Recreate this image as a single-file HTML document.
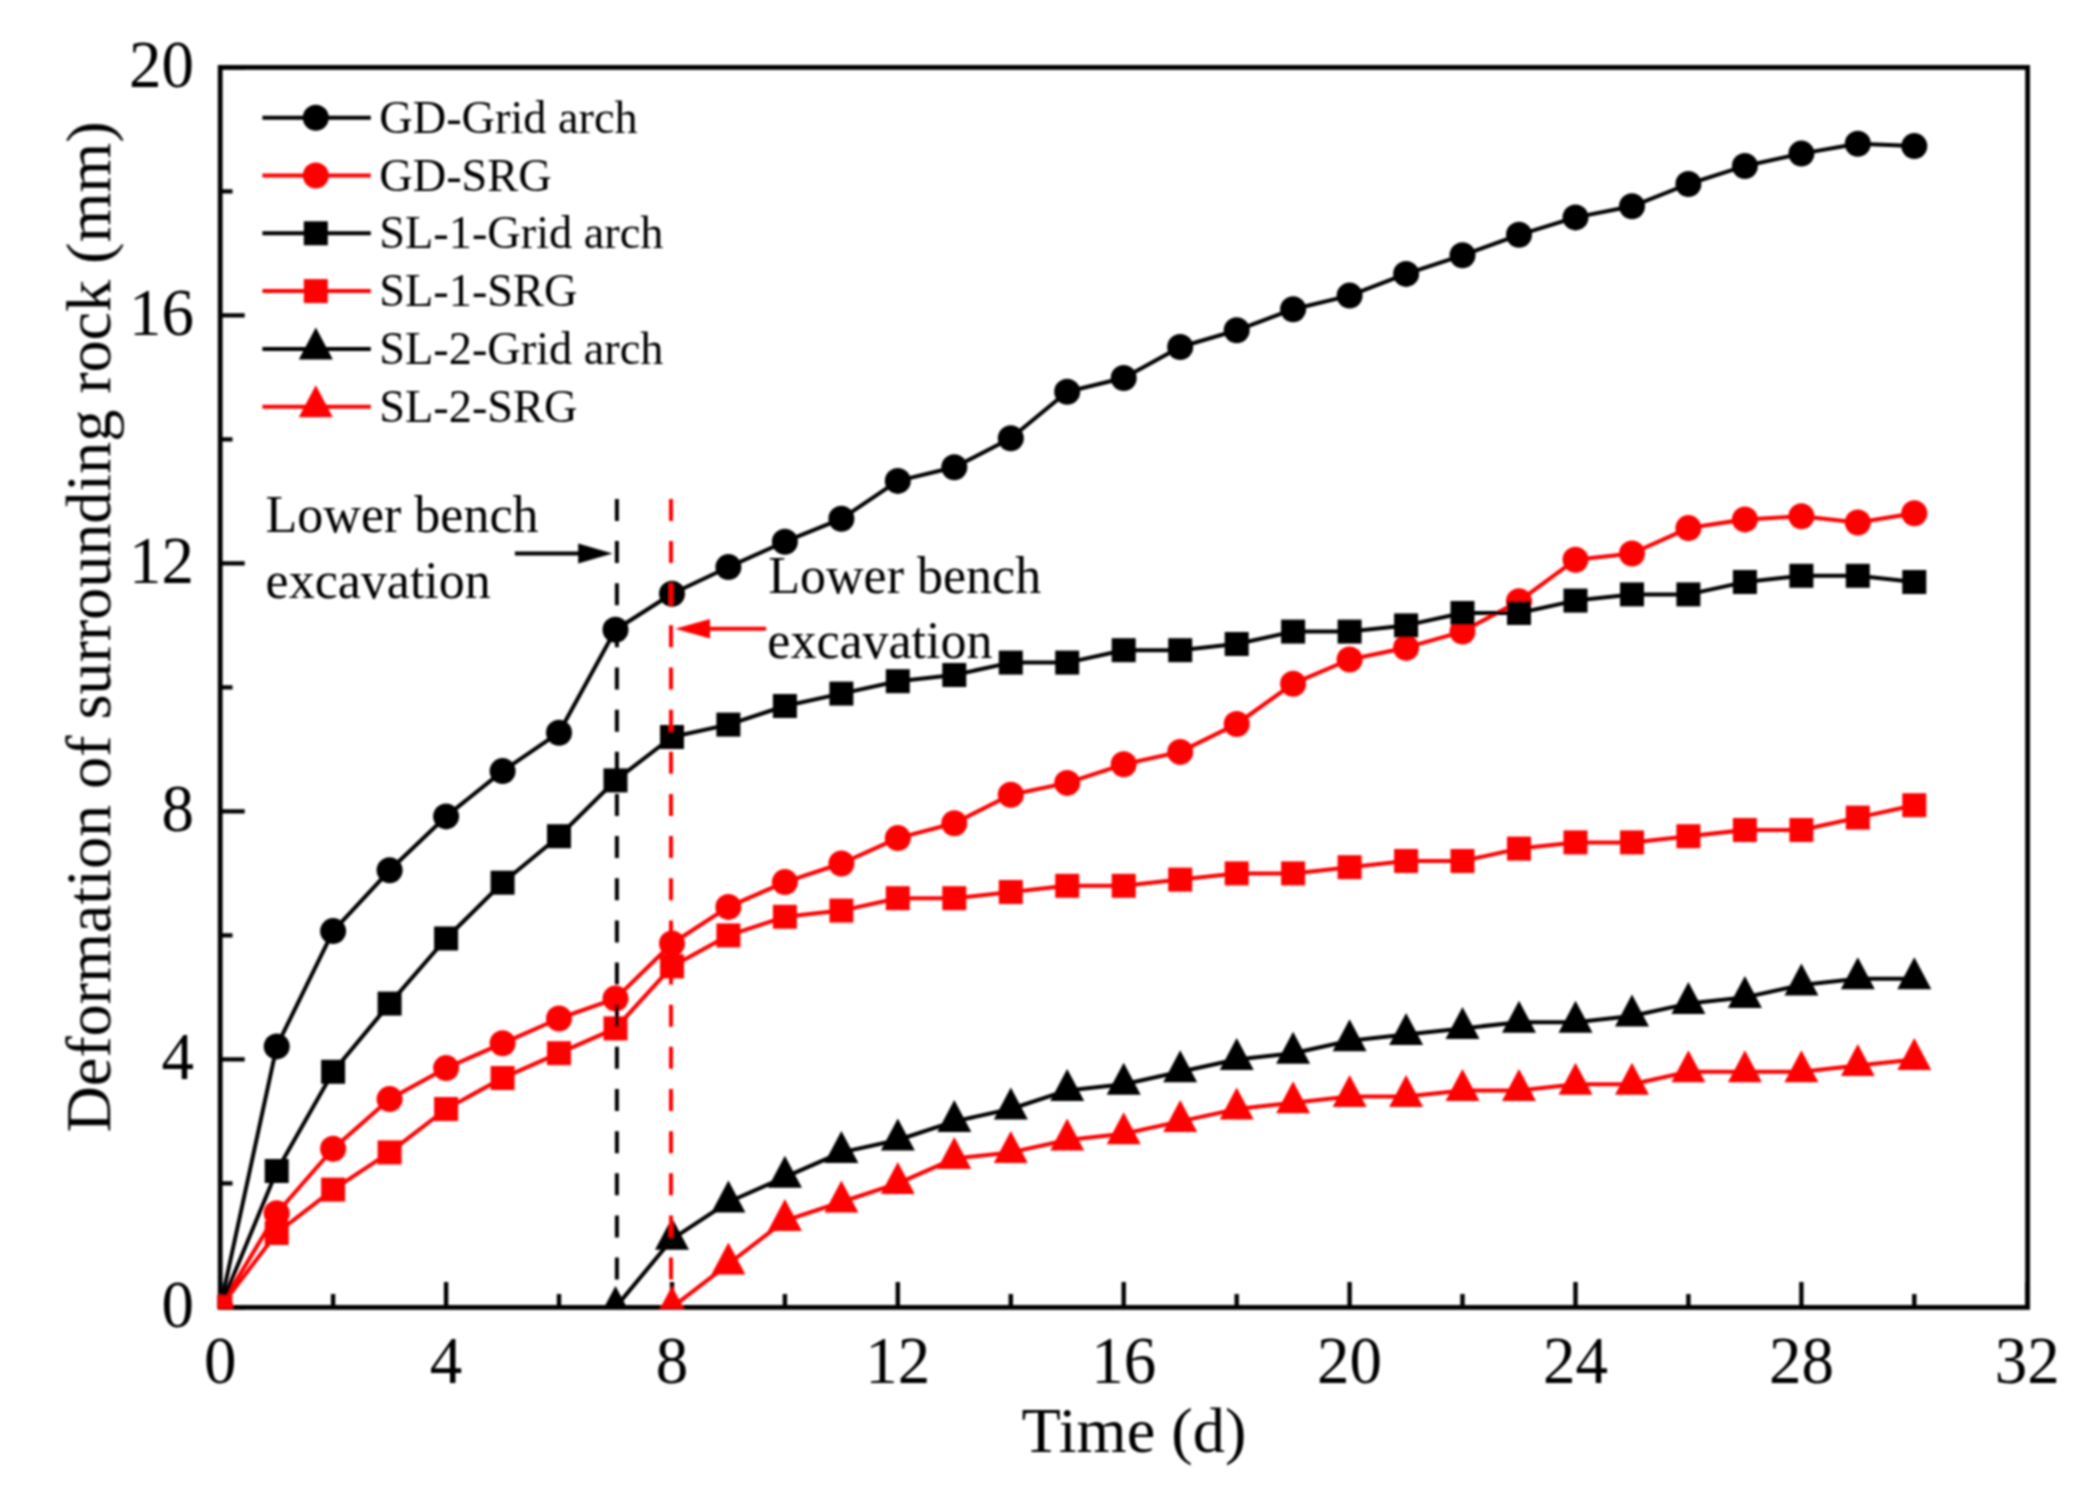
<!DOCTYPE html>
<html lang="en"><head><meta charset="utf-8"><title>Deformation of surrounding rock</title>
<style>html,body{margin:0;padding:0;background:#fff}svg{display:block}text{font-family:"Liberation Serif","Times New Roman",serif;fill:#000}</style>
</head><body>
<svg width="2098" height="1496" viewBox="0 0 2098 1496">
<rect width="2098" height="1496" fill="#fff"/>
<defs><clipPath id="plot"><rect x="217.6" y="64.9" width="1812.5" height="1243.8"/></clipPath><filter id="soft" x="0" y="0" width="2098" height="1496" filterUnits="userSpaceOnUse"><feGaussianBlur stdDeviation="0.8"/></filter></defs>
<g filter="url(#soft)">
<path d="M220.2,1307.4V1281.9M333.1,1307.4V1293.9M446.1,1307.4V1281.9M559.0,1307.4V1293.9M672.0,1307.4V1281.9M784.9,1307.4V1293.9M897.8,1307.4V1281.9M1010.8,1307.4V1293.9M1123.7,1307.4V1281.9M1236.7,1307.4V1293.9M1349.6,1307.4V1281.9M1462.5,1307.4V1293.9M1575.5,1307.4V1281.9M1688.4,1307.4V1293.9M1801.4,1307.4V1281.9M1914.3,1307.4V1293.9M2027.2,1307.4V1281.9M220.2,1307.4H244.7M220.2,1183.4H232.5M220.2,1059.4H244.7M220.2,935.4H232.5M220.2,811.4H244.7M220.2,687.4H232.5M220.2,563.4H244.7M220.2,439.4H232.5M220.2,315.4H244.7M220.2,191.4H232.5M220.2,67.4H244.7" stroke="#000" stroke-width="4.4" fill="none"/>
<rect x="220.2" y="67.4" width="1807.4" height="1240.0" fill="none" stroke="#000" stroke-width="4.8"/>
<g clip-path="url(#plot)">
<polyline fill="none" stroke="#000" stroke-width="4.0" stroke-linejoin="round" points="220.2,1307.4 276.7,1046.4 333.1,931.1 389.6,870.3 446.1,816.4 502.6,771.1 559.0,732.7 615.5,629.7 672.0,593.8 728.4,567.1 784.9,541.7 841.4,518.8 897.8,480.9 954.3,467.3 1010.8,438.2 1067.2,391.7 1123.7,378.0 1180.2,347.0 1236.7,330.3 1293.1,309.2 1349.6,295.6 1406.1,273.9 1462.5,255.3 1519.0,234.8 1575.5,217.4 1632.0,206.3 1688.4,184.0 1744.9,166.0 1801.4,153.6 1857.8,143.7 1914.3,146.1"/>
<circle cx="220.2" cy="1307.4" r="13.0" fill="#000"/>
<circle cx="276.7" cy="1046.4" r="13.0" fill="#000"/>
<circle cx="333.1" cy="931.1" r="13.0" fill="#000"/>
<circle cx="389.6" cy="870.3" r="13.0" fill="#000"/>
<circle cx="446.1" cy="816.4" r="13.0" fill="#000"/>
<circle cx="502.6" cy="771.1" r="13.0" fill="#000"/>
<circle cx="559.0" cy="732.7" r="13.0" fill="#000"/>
<circle cx="615.5" cy="629.7" r="13.0" fill="#000"/>
<circle cx="672.0" cy="593.8" r="13.0" fill="#000"/>
<circle cx="728.4" cy="567.1" r="13.0" fill="#000"/>
<circle cx="784.9" cy="541.7" r="13.0" fill="#000"/>
<circle cx="841.4" cy="518.8" r="13.0" fill="#000"/>
<circle cx="897.8" cy="480.9" r="13.0" fill="#000"/>
<circle cx="954.3" cy="467.3" r="13.0" fill="#000"/>
<circle cx="1010.8" cy="438.2" r="13.0" fill="#000"/>
<circle cx="1067.2" cy="391.7" r="13.0" fill="#000"/>
<circle cx="1123.7" cy="378.0" r="13.0" fill="#000"/>
<circle cx="1180.2" cy="347.0" r="13.0" fill="#000"/>
<circle cx="1236.7" cy="330.3" r="13.0" fill="#000"/>
<circle cx="1293.1" cy="309.2" r="13.0" fill="#000"/>
<circle cx="1349.6" cy="295.6" r="13.0" fill="#000"/>
<circle cx="1406.1" cy="273.9" r="13.0" fill="#000"/>
<circle cx="1462.5" cy="255.3" r="13.0" fill="#000"/>
<circle cx="1519.0" cy="234.8" r="13.0" fill="#000"/>
<circle cx="1575.5" cy="217.4" r="13.0" fill="#000"/>
<circle cx="1632.0" cy="206.3" r="13.0" fill="#000"/>
<circle cx="1688.4" cy="184.0" r="13.0" fill="#000"/>
<circle cx="1744.9" cy="166.0" r="13.0" fill="#000"/>
<circle cx="1801.4" cy="153.6" r="13.0" fill="#000"/>
<circle cx="1857.8" cy="143.7" r="13.0" fill="#000"/>
<circle cx="1914.3" cy="146.1" r="13.0" fill="#000"/>
<polyline fill="none" stroke="#ff0000" stroke-width="4.0" stroke-linejoin="round" points="220.2,1307.4 276.7,1213.2 333.1,1148.7 389.6,1099.1 446.1,1068.1 502.6,1043.3 559.0,1018.5 615.5,998.6 672.0,943.5 728.4,906.9 784.9,882.1 841.4,863.5 897.8,838.1 954.3,823.2 1010.8,794.7 1067.2,782.9 1123.7,764.3 1180.2,751.9 1236.7,724.0 1293.1,683.7 1349.6,659.5 1406.1,647.7 1462.5,631.6 1519.0,601.2 1575.5,559.7 1632.0,553.5 1688.4,528.1 1744.9,519.4 1801.4,516.3 1857.8,522.5 1914.3,513.2"/>
<circle cx="220.2" cy="1307.4" r="13.0" fill="#ff0000"/>
<circle cx="276.7" cy="1213.2" r="13.0" fill="#ff0000"/>
<circle cx="333.1" cy="1148.7" r="13.0" fill="#ff0000"/>
<circle cx="389.6" cy="1099.1" r="13.0" fill="#ff0000"/>
<circle cx="446.1" cy="1068.1" r="13.0" fill="#ff0000"/>
<circle cx="502.6" cy="1043.3" r="13.0" fill="#ff0000"/>
<circle cx="559.0" cy="1018.5" r="13.0" fill="#ff0000"/>
<circle cx="615.5" cy="998.6" r="13.0" fill="#ff0000"/>
<circle cx="672.0" cy="943.5" r="13.0" fill="#ff0000"/>
<circle cx="728.4" cy="906.9" r="13.0" fill="#ff0000"/>
<circle cx="784.9" cy="882.1" r="13.0" fill="#ff0000"/>
<circle cx="841.4" cy="863.5" r="13.0" fill="#ff0000"/>
<circle cx="897.8" cy="838.1" r="13.0" fill="#ff0000"/>
<circle cx="954.3" cy="823.2" r="13.0" fill="#ff0000"/>
<circle cx="1010.8" cy="794.7" r="13.0" fill="#ff0000"/>
<circle cx="1067.2" cy="782.9" r="13.0" fill="#ff0000"/>
<circle cx="1123.7" cy="764.3" r="13.0" fill="#ff0000"/>
<circle cx="1180.2" cy="751.9" r="13.0" fill="#ff0000"/>
<circle cx="1236.7" cy="724.0" r="13.0" fill="#ff0000"/>
<circle cx="1293.1" cy="683.7" r="13.0" fill="#ff0000"/>
<circle cx="1349.6" cy="659.5" r="13.0" fill="#ff0000"/>
<circle cx="1406.1" cy="647.7" r="13.0" fill="#ff0000"/>
<circle cx="1462.5" cy="631.6" r="13.0" fill="#ff0000"/>
<circle cx="1519.0" cy="601.2" r="13.0" fill="#ff0000"/>
<circle cx="1575.5" cy="559.7" r="13.0" fill="#ff0000"/>
<circle cx="1632.0" cy="553.5" r="13.0" fill="#ff0000"/>
<circle cx="1688.4" cy="528.1" r="13.0" fill="#ff0000"/>
<circle cx="1744.9" cy="519.4" r="13.0" fill="#ff0000"/>
<circle cx="1801.4" cy="516.3" r="13.0" fill="#ff0000"/>
<circle cx="1857.8" cy="522.5" r="13.0" fill="#ff0000"/>
<circle cx="1914.3" cy="513.2" r="13.0" fill="#ff0000"/>
<polyline fill="none" stroke="#000" stroke-width="4.0" stroke-linejoin="round" points="220.2,1307.4 276.7,1171.0 333.1,1071.8 389.6,1003.6 446.1,938.5 502.6,882.7 559.0,836.2 615.5,780.4 672.0,737.0 728.4,724.6 784.9,706.0 841.4,693.6 897.8,681.2 954.3,675.0 1010.8,662.6 1067.2,662.6 1123.7,650.2 1180.2,650.2 1236.7,644.0 1293.1,631.6 1349.6,631.6 1406.1,625.4 1462.5,613.0 1519.0,613.0 1575.5,600.6 1632.0,594.4 1688.4,594.4 1744.9,582.0 1801.4,575.8 1857.8,575.8 1914.3,582.0"/>
<rect x="208.2" y="1295.4" width="24.0" height="24.0" fill="#000"/>
<rect x="264.7" y="1159.0" width="24.0" height="24.0" fill="#000"/>
<rect x="321.1" y="1059.8" width="24.0" height="24.0" fill="#000"/>
<rect x="377.6" y="991.6" width="24.0" height="24.0" fill="#000"/>
<rect x="434.1" y="926.5" width="24.0" height="24.0" fill="#000"/>
<rect x="490.6" y="870.7" width="24.0" height="24.0" fill="#000"/>
<rect x="547.0" y="824.2" width="24.0" height="24.0" fill="#000"/>
<rect x="603.5" y="768.4" width="24.0" height="24.0" fill="#000"/>
<rect x="660.0" y="725.0" width="24.0" height="24.0" fill="#000"/>
<rect x="716.4" y="712.6" width="24.0" height="24.0" fill="#000"/>
<rect x="772.9" y="694.0" width="24.0" height="24.0" fill="#000"/>
<rect x="829.4" y="681.6" width="24.0" height="24.0" fill="#000"/>
<rect x="885.8" y="669.2" width="24.0" height="24.0" fill="#000"/>
<rect x="942.3" y="663.0" width="24.0" height="24.0" fill="#000"/>
<rect x="998.8" y="650.6" width="24.0" height="24.0" fill="#000"/>
<rect x="1055.2" y="650.6" width="24.0" height="24.0" fill="#000"/>
<rect x="1111.7" y="638.2" width="24.0" height="24.0" fill="#000"/>
<rect x="1168.2" y="638.2" width="24.0" height="24.0" fill="#000"/>
<rect x="1224.7" y="632.0" width="24.0" height="24.0" fill="#000"/>
<rect x="1281.1" y="619.6" width="24.0" height="24.0" fill="#000"/>
<rect x="1337.6" y="619.6" width="24.0" height="24.0" fill="#000"/>
<rect x="1394.1" y="613.4" width="24.0" height="24.0" fill="#000"/>
<rect x="1450.5" y="601.0" width="24.0" height="24.0" fill="#000"/>
<rect x="1507.0" y="601.0" width="24.0" height="24.0" fill="#000"/>
<rect x="1563.5" y="588.6" width="24.0" height="24.0" fill="#000"/>
<rect x="1620.0" y="582.4" width="24.0" height="24.0" fill="#000"/>
<rect x="1676.4" y="582.4" width="24.0" height="24.0" fill="#000"/>
<rect x="1732.9" y="570.0" width="24.0" height="24.0" fill="#000"/>
<rect x="1789.4" y="563.8" width="24.0" height="24.0" fill="#000"/>
<rect x="1845.8" y="563.8" width="24.0" height="24.0" fill="#000"/>
<rect x="1902.3" y="570.0" width="24.0" height="24.0" fill="#000"/>
<polyline fill="none" stroke="#ff0000" stroke-width="4.0" stroke-linejoin="round" points="220.2,1307.4 276.7,1233.0 333.1,1189.6 389.6,1152.4 446.1,1109.0 502.6,1078.0 559.0,1053.2 615.5,1028.4 672.0,966.4 728.4,935.4 784.9,916.8 841.4,910.6 897.8,898.2 954.3,898.2 1010.8,892.0 1067.2,885.8 1123.7,885.8 1180.2,879.6 1236.7,873.4 1293.1,873.4 1349.6,867.2 1406.1,861.0 1462.5,861.0 1519.0,848.6 1575.5,842.4 1632.0,842.4 1688.4,836.2 1744.9,830.0 1801.4,830.0 1857.8,817.6 1914.3,805.2"/>
<rect x="208.2" y="1295.4" width="24.0" height="24.0" fill="#ff0000"/>
<rect x="264.7" y="1221.0" width="24.0" height="24.0" fill="#ff0000"/>
<rect x="321.1" y="1177.6" width="24.0" height="24.0" fill="#ff0000"/>
<rect x="377.6" y="1140.4" width="24.0" height="24.0" fill="#ff0000"/>
<rect x="434.1" y="1097.0" width="24.0" height="24.0" fill="#ff0000"/>
<rect x="490.6" y="1066.0" width="24.0" height="24.0" fill="#ff0000"/>
<rect x="547.0" y="1041.2" width="24.0" height="24.0" fill="#ff0000"/>
<rect x="603.5" y="1016.4" width="24.0" height="24.0" fill="#ff0000"/>
<rect x="660.0" y="954.4" width="24.0" height="24.0" fill="#ff0000"/>
<rect x="716.4" y="923.4" width="24.0" height="24.0" fill="#ff0000"/>
<rect x="772.9" y="904.8" width="24.0" height="24.0" fill="#ff0000"/>
<rect x="829.4" y="898.6" width="24.0" height="24.0" fill="#ff0000"/>
<rect x="885.8" y="886.2" width="24.0" height="24.0" fill="#ff0000"/>
<rect x="942.3" y="886.2" width="24.0" height="24.0" fill="#ff0000"/>
<rect x="998.8" y="880.0" width="24.0" height="24.0" fill="#ff0000"/>
<rect x="1055.2" y="873.8" width="24.0" height="24.0" fill="#ff0000"/>
<rect x="1111.7" y="873.8" width="24.0" height="24.0" fill="#ff0000"/>
<rect x="1168.2" y="867.6" width="24.0" height="24.0" fill="#ff0000"/>
<rect x="1224.7" y="861.4" width="24.0" height="24.0" fill="#ff0000"/>
<rect x="1281.1" y="861.4" width="24.0" height="24.0" fill="#ff0000"/>
<rect x="1337.6" y="855.2" width="24.0" height="24.0" fill="#ff0000"/>
<rect x="1394.1" y="849.0" width="24.0" height="24.0" fill="#ff0000"/>
<rect x="1450.5" y="849.0" width="24.0" height="24.0" fill="#ff0000"/>
<rect x="1507.0" y="836.6" width="24.0" height="24.0" fill="#ff0000"/>
<rect x="1563.5" y="830.4" width="24.0" height="24.0" fill="#ff0000"/>
<rect x="1620.0" y="830.4" width="24.0" height="24.0" fill="#ff0000"/>
<rect x="1676.4" y="824.2" width="24.0" height="24.0" fill="#ff0000"/>
<rect x="1732.9" y="818.0" width="24.0" height="24.0" fill="#ff0000"/>
<rect x="1789.4" y="818.0" width="24.0" height="24.0" fill="#ff0000"/>
<rect x="1845.8" y="805.6" width="24.0" height="24.0" fill="#ff0000"/>
<rect x="1902.3" y="793.2" width="24.0" height="24.0" fill="#ff0000"/>
<polyline fill="none" stroke="#000" stroke-width="4.0" stroke-linejoin="round" points="615.5,1307.4 672.0,1239.2 728.4,1202.0 784.9,1177.2 841.4,1152.4 897.8,1140.0 954.3,1121.4 1010.8,1109.0 1067.2,1090.4 1123.7,1084.2 1180.2,1071.8 1236.7,1059.4 1293.1,1053.2 1349.6,1040.8 1406.1,1034.6 1462.5,1028.4 1519.0,1022.2 1575.5,1022.2 1632.0,1016.0 1688.4,1003.6 1744.9,997.4 1801.4,985.0 1857.8,978.8 1914.3,978.8"/>
<polygon points="615.5,1285.9 632.5,1317.9 598.5,1317.9" fill="#000"/>
<polygon points="672.0,1217.7 689.0,1249.7 655.0,1249.7" fill="#000"/>
<polygon points="728.4,1180.5 745.4,1212.5 711.4,1212.5" fill="#000"/>
<polygon points="784.9,1155.7 801.9,1187.7 767.9,1187.7" fill="#000"/>
<polygon points="841.4,1130.9 858.4,1162.9 824.4,1162.9" fill="#000"/>
<polygon points="897.8,1118.5 914.8,1150.5 880.8,1150.5" fill="#000"/>
<polygon points="954.3,1099.9 971.3,1131.9 937.3,1131.9" fill="#000"/>
<polygon points="1010.8,1087.5 1027.8,1119.5 993.8,1119.5" fill="#000"/>
<polygon points="1067.2,1068.9 1084.2,1100.9 1050.2,1100.9" fill="#000"/>
<polygon points="1123.7,1062.7 1140.7,1094.7 1106.7,1094.7" fill="#000"/>
<polygon points="1180.2,1050.3 1197.2,1082.3 1163.2,1082.3" fill="#000"/>
<polygon points="1236.7,1037.9 1253.7,1069.9 1219.7,1069.9" fill="#000"/>
<polygon points="1293.1,1031.7 1310.1,1063.7 1276.1,1063.7" fill="#000"/>
<polygon points="1349.6,1019.3 1366.6,1051.3 1332.6,1051.3" fill="#000"/>
<polygon points="1406.1,1013.1 1423.1,1045.1 1389.1,1045.1" fill="#000"/>
<polygon points="1462.5,1006.9 1479.5,1038.9 1445.5,1038.9" fill="#000"/>
<polygon points="1519.0,1000.7 1536.0,1032.7 1502.0,1032.7" fill="#000"/>
<polygon points="1575.5,1000.7 1592.5,1032.7 1558.5,1032.7" fill="#000"/>
<polygon points="1632.0,994.5 1649.0,1026.5 1615.0,1026.5" fill="#000"/>
<polygon points="1688.4,982.1 1705.4,1014.1 1671.4,1014.1" fill="#000"/>
<polygon points="1744.9,975.9 1761.9,1007.9 1727.9,1007.9" fill="#000"/>
<polygon points="1801.4,963.5 1818.4,995.5 1784.4,995.5" fill="#000"/>
<polygon points="1857.8,957.3 1874.8,989.3 1840.8,989.3" fill="#000"/>
<polygon points="1914.3,957.3 1931.3,989.3 1897.3,989.3" fill="#000"/>
<polyline fill="none" stroke="#ff0000" stroke-width="4.0" stroke-linejoin="round" points="672.0,1307.4 728.4,1264.0 784.9,1220.6 841.4,1202.0 897.8,1183.4 954.3,1158.6 1010.8,1152.4 1067.2,1140.0 1123.7,1133.8 1180.2,1121.4 1236.7,1109.0 1293.1,1102.8 1349.6,1096.6 1406.1,1096.6 1462.5,1090.4 1519.0,1090.4 1575.5,1084.2 1632.0,1084.2 1688.4,1071.8 1744.9,1071.8 1801.4,1071.8 1857.8,1065.6 1914.3,1059.4"/>
<polygon points="672.0,1285.9 689.0,1317.9 655.0,1317.9" fill="#ff0000"/>
<polygon points="728.4,1242.5 745.4,1274.5 711.4,1274.5" fill="#ff0000"/>
<polygon points="784.9,1199.1 801.9,1231.1 767.9,1231.1" fill="#ff0000"/>
<polygon points="841.4,1180.5 858.4,1212.5 824.4,1212.5" fill="#ff0000"/>
<polygon points="897.8,1161.9 914.8,1193.9 880.8,1193.9" fill="#ff0000"/>
<polygon points="954.3,1137.1 971.3,1169.1 937.3,1169.1" fill="#ff0000"/>
<polygon points="1010.8,1130.9 1027.8,1162.9 993.8,1162.9" fill="#ff0000"/>
<polygon points="1067.2,1118.5 1084.2,1150.5 1050.2,1150.5" fill="#ff0000"/>
<polygon points="1123.7,1112.3 1140.7,1144.3 1106.7,1144.3" fill="#ff0000"/>
<polygon points="1180.2,1099.9 1197.2,1131.9 1163.2,1131.9" fill="#ff0000"/>
<polygon points="1236.7,1087.5 1253.7,1119.5 1219.7,1119.5" fill="#ff0000"/>
<polygon points="1293.1,1081.3 1310.1,1113.3 1276.1,1113.3" fill="#ff0000"/>
<polygon points="1349.6,1075.1 1366.6,1107.1 1332.6,1107.1" fill="#ff0000"/>
<polygon points="1406.1,1075.1 1423.1,1107.1 1389.1,1107.1" fill="#ff0000"/>
<polygon points="1462.5,1068.9 1479.5,1100.9 1445.5,1100.9" fill="#ff0000"/>
<polygon points="1519.0,1068.9 1536.0,1100.9 1502.0,1100.9" fill="#ff0000"/>
<polygon points="1575.5,1062.7 1592.5,1094.7 1558.5,1094.7" fill="#ff0000"/>
<polygon points="1632.0,1062.7 1649.0,1094.7 1615.0,1094.7" fill="#ff0000"/>
<polygon points="1688.4,1050.3 1705.4,1082.3 1671.4,1082.3" fill="#ff0000"/>
<polygon points="1744.9,1050.3 1761.9,1082.3 1727.9,1082.3" fill="#ff0000"/>
<polygon points="1801.4,1050.3 1818.4,1082.3 1784.4,1082.3" fill="#ff0000"/>
<polygon points="1857.8,1044.1 1874.8,1076.1 1840.8,1076.1" fill="#ff0000"/>
<polygon points="1914.3,1037.9 1931.3,1069.9 1897.3,1069.9" fill="#ff0000"/>
</g>
<line x1="616.9" y1="498.9" x2="616.9" y2="1307.4" stroke="#000" stroke-width="4" stroke-dasharray="22 20.15"/>
<line x1="671" y1="498.9" x2="671" y2="1307.4" stroke="#ff0000" stroke-width="4" stroke-dasharray="22 20.15"/>
<line x1="514.9" y1="553.6" x2="585" y2="553.6" stroke="#000" stroke-width="4"/>
<polygon points="578.2,543.6 612.5,553.6 578.2,563.6" fill="#000"/>
<line x1="766.1" y1="628.7" x2="703" y2="628.7" stroke="#ff0000" stroke-width="4"/>
<polygon points="710,619 675,628.7 710,638.4" fill="#ff0000"/>
<g font-size="65">
<text transform="translate(220.2 1383.2) scale(1 1.035)" text-anchor="middle">0</text>
<text transform="translate(446.1 1383.2) scale(1 1.035)" text-anchor="middle">4</text>
<text transform="translate(672.0 1383.2) scale(1 1.035)" text-anchor="middle">8</text>
<text transform="translate(897.8 1383.2) scale(1 1.035)" text-anchor="middle">12</text>
<text transform="translate(1123.7 1383.2) scale(1 1.035)" text-anchor="middle">16</text>
<text transform="translate(1349.6 1383.2) scale(1 1.035)" text-anchor="middle">20</text>
<text transform="translate(1575.5 1383.2) scale(1 1.035)" text-anchor="middle">24</text>
<text transform="translate(1801.4 1383.2) scale(1 1.035)" text-anchor="middle">28</text>
<text transform="translate(2027.2 1383.2) scale(1 1.035)" text-anchor="middle">32</text>
<text transform="translate(194 1327.3) scale(1 1.035)" text-anchor="end">0</text>
<text transform="translate(194 1079.3) scale(1 1.035)" text-anchor="end">4</text>
<text transform="translate(194 831.3) scale(1 1.035)" text-anchor="end">8</text>
<text transform="translate(194 583.3) scale(1 1.035)" text-anchor="end">12</text>
<text transform="translate(194 335.3) scale(1 1.035)" text-anchor="end">16</text>
<text transform="translate(194 87.3) scale(1 1.035)" text-anchor="end">20</text>
<text x="1134" y="1452" text-anchor="middle" font-size="64.4">Time (d)</text>
<text transform="translate(110.2 626.9) rotate(-90)" text-anchor="middle" font-size="64.1">Deformation of surrounding rock (mm)</text>
</g>
<g font-size="46.3">
<line x1="262.4" y1="117.7" x2="370.8" y2="117.7" stroke="#000" stroke-width="4"/>
<circle cx="315.8" cy="117.7" r="13.0" fill="#000"/>
<text x="379.3" y="132.7">GD-Grid arch</text>
<line x1="262.4" y1="175.5" x2="370.8" y2="175.5" stroke="#ff0000" stroke-width="4"/>
<circle cx="315.8" cy="175.5" r="13.0" fill="#ff0000"/>
<text x="379.3" y="190.5">GD-SRG</text>
<line x1="262.4" y1="233.3" x2="370.8" y2="233.3" stroke="#000" stroke-width="4"/>
<rect x="303.8" y="221.3" width="24.0" height="24.0" fill="#000"/>
<text x="379.3" y="248.3">SL-1-Grid arch</text>
<line x1="262.4" y1="291.1" x2="370.8" y2="291.1" stroke="#ff0000" stroke-width="4"/>
<rect x="303.8" y="279.1" width="24.0" height="24.0" fill="#ff0000"/>
<text x="379.3" y="306.1">SL-1-SRG</text>
<line x1="262.4" y1="348.9" x2="370.8" y2="348.9" stroke="#000" stroke-width="4"/>
<polygon points="315.8,327.4 332.8,359.4 298.8,359.4" fill="#000"/>
<text x="379.3" y="363.9">SL-2-Grid arch</text>
<line x1="262.4" y1="406.7" x2="370.8" y2="406.7" stroke="#ff0000" stroke-width="4"/>
<polygon points="315.8,385.2 332.8,417.2 298.8,417.2" fill="#ff0000"/>
<text x="379.3" y="421.7">SL-2-SRG</text>
</g>
<g font-size="52">
<text x="265.6" y="532.2">Lower bench</text>
<text x="265.6" y="597.5">excavation</text>
<text x="768.3" y="593.3">Lower bench</text>
<text x="767.3" y="657.7">excavation</text>
</g>
</g>
</svg></body></html>
